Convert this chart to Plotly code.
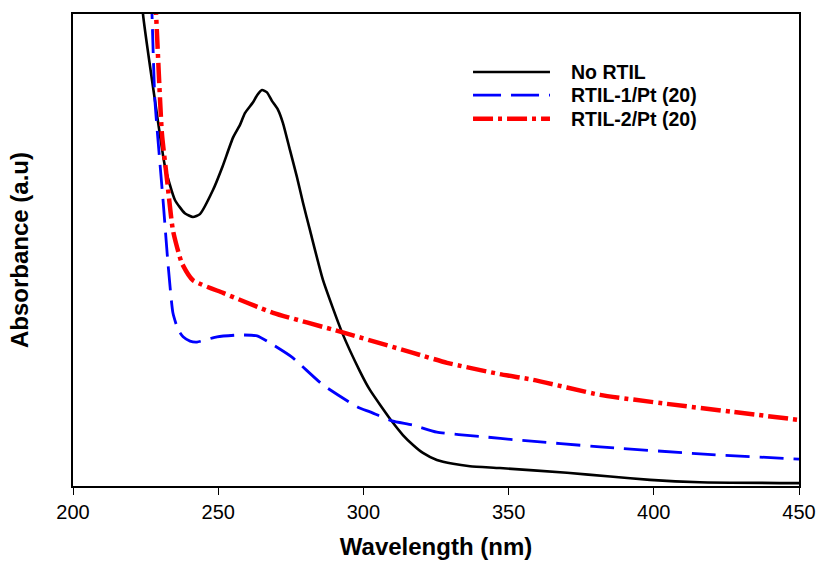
import plotly.graph_objects as go

# Wavelength (nm) and absorbance (a.u.)
wl_none = [223.7, 224.1, 228.2, 231.7, 235.1, 238.5, 241.3, 243.7, 248.2, 251.5, 255.1, 257.5, 259.2,
           262.0, 263.4, 265.1, 266.8, 268.5, 270.6, 272.3, 274.7, 277.1, 279.2, 281.6, 286.1,
           292.6, 298.8, 302.3, 309.8, 313.6, 317.1, 320.5, 325.3, 330.9, 336.7, 347.0, 370.1,
           385.0, 398.7, 415.9, 450.0]
abs_none = [1.04, 1.00, 0.818, 0.676, 0.606, 0.578, 0.570, 0.576, 0.627, 0.677, 0.738, 0.765, 0.790,
            0.813, 0.828, 0.839, 0.834, 0.816, 0.797, 0.769, 0.712, 0.655, 0.600, 0.542, 0.436,
            0.326, 0.243, 0.203, 0.137, 0.108, 0.087, 0.070, 0.055, 0.047, 0.042, 0.038, 0.028,
            0.020, 0.013, 0.008, 0.006]

wl_rtil1 = [226.9, 227.2, 228.2, 231.0, 232.7, 234.4, 236.2, 237.9, 240.3, 242.7, 249.6, 257.5,
            263.4, 268.9, 275.4, 286.1, 298.1, 302.3, 309.8, 317.1, 325.3, 340.2, 353.9, 381.5,
            415.9, 450.0]
abs_rtil1 = [1.04, 1.00, 0.818, 0.606, 0.472, 0.367, 0.331, 0.316, 0.307, 0.305, 0.316, 0.320,
             0.318, 0.299, 0.273, 0.214, 0.167, 0.157, 0.138, 0.129, 0.114, 0.105, 0.097, 0.083,
             0.068, 0.057]

wl_rtil2 = [228.2, 228.6, 230.6, 232.4, 234.4, 237.5, 241.3, 251.7, 268.9, 292.6, 317.1, 328.8,
            347.0, 358.4, 381.5, 404.5, 427.3, 450.0]
abs_rtil2 = [1.04, 1.00, 0.748, 0.648, 0.542, 0.472, 0.436, 0.409, 0.367, 0.326, 0.282, 0.261,
             0.237, 0.225, 0.193, 0.174, 0.157, 0.140]

series_names = ["No RTIL", "RTIL-1/Pt (20)", "RTIL-2/Pt (20)"]
x_ticks = [200, 250, 300, 350, 400, 450]

FONT = "Liberation Sans, Arial, sans-serif"
styles = [
    dict(color="#000000", width=2.6, dash="solid"),
    dict(color="#0000FF", width=2.8, dash="24px,10px"),
    dict(color="#FF0000", width=4.5, dash="20px,5px,4px,5px"),
]

fig = go.Figure()
for xs, ys, name, st in zip([wl_none, wl_rtil1, wl_rtil2], [abs_none, abs_rtil1, abs_rtil2],
                            series_names, styles):
    fig.add_trace(go.Scatter(x=xs, y=ys, mode="lines", name=name, line_shape="spline",
                             line=dict(color=st["color"], width=st["width"], dash=st["dash"],
                                       smoothing=0.5),
                             showlegend=False))

# manual legend (long line samples like the original)
leg_y = [0.877, 0.828, 0.778]
for name, st, yy in zip(series_names, styles, leg_y):
    fig.add_shape(type="line", xref="paper", yref="paper", x0=0.551, x1=0.657, y0=yy, y1=yy,
                  line=dict(color=st["color"], width=st["width"],
                            dash=st["dash"] if st["dash"] != "24px,10px" else "28px,10px"))
    fig.add_annotation(xref="paper", yref="paper", x=0.683, y=yy, text="<b>%s</b>" % name,
                       showarrow=False, xanchor="left", yanchor="middle",
                       font=dict(family=FONT, size=19.5, color="#000000"))

fig.update_layout(
    width=816, height=566,
    margin=dict(l=73, r=17, t=14, b=80, autoexpand=False),
    paper_bgcolor="white", plot_bgcolor="white",
    font=dict(family=FONT, color="#000000"),
)
fig.update_xaxes(
    range=[200, 450], tickvals=x_ticks, ticktext=[str(t) for t in x_ticks],
    ticks="outside", ticklen=7, tickwidth=1.3, tickcolor="#000000",
    showline=True, linecolor="#000000", linewidth=1.5, mirror=True,
    showgrid=False, zeroline=False, automargin=False,
    tickfont=dict(family=FONT, size=20, color="#000000"),
    title=dict(text="<b>Wavelength (nm)</b>", font=dict(family=FONT, size=24, color="#000000"),
               standoff=16),
)
fig.update_yaxes(
    range=[0, 1], showticklabels=False, ticks="",
    showline=True, linecolor="#000000", linewidth=1.5, mirror=True,
    showgrid=False, zeroline=False, automargin=False,
    title=dict(text="<b>Absorbance (a.u)</b>", font=dict(family=FONT, size=24, color="#000000"),
               standoff=36),
)

fig.write_html("out.html")
